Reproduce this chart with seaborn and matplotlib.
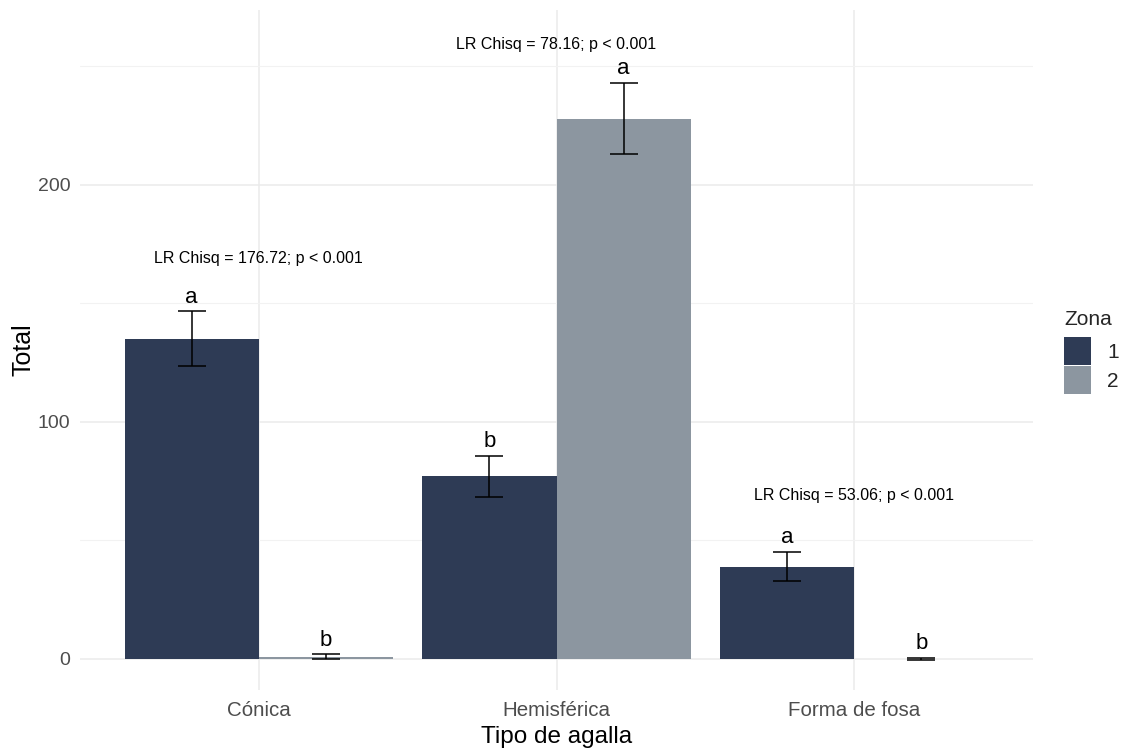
import matplotlib
matplotlib.use("Agg")
import matplotlib.pyplot as plt
from matplotlib.ticker import MultipleLocator
import seaborn as sns
import pandas as pd

# Counts of galls by type and zone, with their standard errors
tipos = ["Cónica", "Hemisférica", "Forma de fosa"]
zonas = ["1", "2"]
total_zona1 = [135, 77, 39]
total_zona2 = [1, 228, 0]
se_zona1 = [11.6, 8.8, 6.2]
se_zona2 = [1.0, 15.1, 0.5]
letras_zona1 = ["a", "b", "a"]
letras_zona2 = ["b", "a", "b"]
lr_textos = ["LR Chisq = 176.72; p < 0.001",
             "LR Chisq = 78.16; p < 0.001",
             "LR Chisq = 53.06; p < 0.001"]
lr_y = [167, 257.5, 67]
colores = ["#2E3B55", "#8C96A0"]

df = pd.DataFrame({
    "Tipo": tipos * 2,
    "Zona": [zonas[0]] * 3 + [zonas[1]] * 3,
    "Total": total_zona1 + total_zona2,
    "se": se_zona1 + se_zona2,
    "letra": letras_zona1 + letras_zona2,
})

sns.set_theme(style="whitegrid")
plt.rcParams["font.family"] = ["Liberation Sans", "DejaVu Sans"]

fig = plt.figure(figsize=(11.22, 7.51), dpi=100)
ax = fig.add_axes([80 / 1122, 1 - 690 / 751, (1033 - 80) / 1122, (690 - 10) / 751])

sns.barplot(data=df, x="Tipo", y="Total", hue="Zona", order=tipos, hue_order=zonas,
            palette=colores, width=0.9, saturation=1, errorbar=None,
            linewidth=0, ax=ax)

# Error bars and letters centred on each bar
for cont, zona in zip(ax.containers, zonas):
    sub = df[df["Zona"] == zona].set_index("Tipo").loc[tipos]
    xs = [p.get_x() + p.get_width() / 2 for p in cont.patches]
    ax.errorbar(xs, sub["Total"], yerr=sub["se"], fmt="none", ecolor="black",
                elinewidth=1.1, capsize=10.4, capthick=1.1, zorder=3)
    for x, m, s, l in zip(xs, sub["Total"], sub["se"], sub["letra"]):
        ax.text(x, m + s + 3.6, l, ha="center", va="baseline", fontsize=16, color="black")

for i, (t, y) in enumerate(zip(lr_textos, lr_y)):
    ax.text(i, y, t, ha="center", va="baseline", fontsize=11.5, color="black")

ax.set_xlim(-0.6, 2.6)
ax.set_ylim(-13.1, 273.8)
ax.yaxis.set_major_locator(MultipleLocator(100))
ax.yaxis.set_minor_locator(MultipleLocator(50))

ax.set_facecolor("white")
for s in ax.spines.values():
    s.set_visible(False)
ax.grid(which="major", axis="both", color="#EBEBEB", linewidth=1.1)
ax.grid(which="minor", axis="y", color="#F2F2F2", linewidth=0.8)
ax.set_axisbelow(True)
ax.tick_params(axis="both", which="both", length=0, labelcolor="#4D4D4D")
ax.tick_params(axis="x", pad=8, labelsize=14.8)
ax.tick_params(axis="y", pad=7, labelsize=14)

ax.set_xlabel("Tipo de agalla", fontsize=17.5, color="black", labelpad=4)
ax.set_ylabel("Total", fontsize=18, color="black", labelpad=1.5)

handles, labels = ax.get_legend_handles_labels()
leg = ax.legend(handles, labels, title="Zona", loc="center left",
                bbox_to_anchor=(1.024, 0.497), frameon=False, fontsize=15,
                title_fontsize=15, handlelength=1.3, handleheight=1.7,
                labelspacing=0.05, handletextpad=0.75, borderaxespad=0)
leg._legend_box.align = "left"
leg._legend_box.sep = 6

fig.savefig("out.png", dpi=100, facecolor="white")
